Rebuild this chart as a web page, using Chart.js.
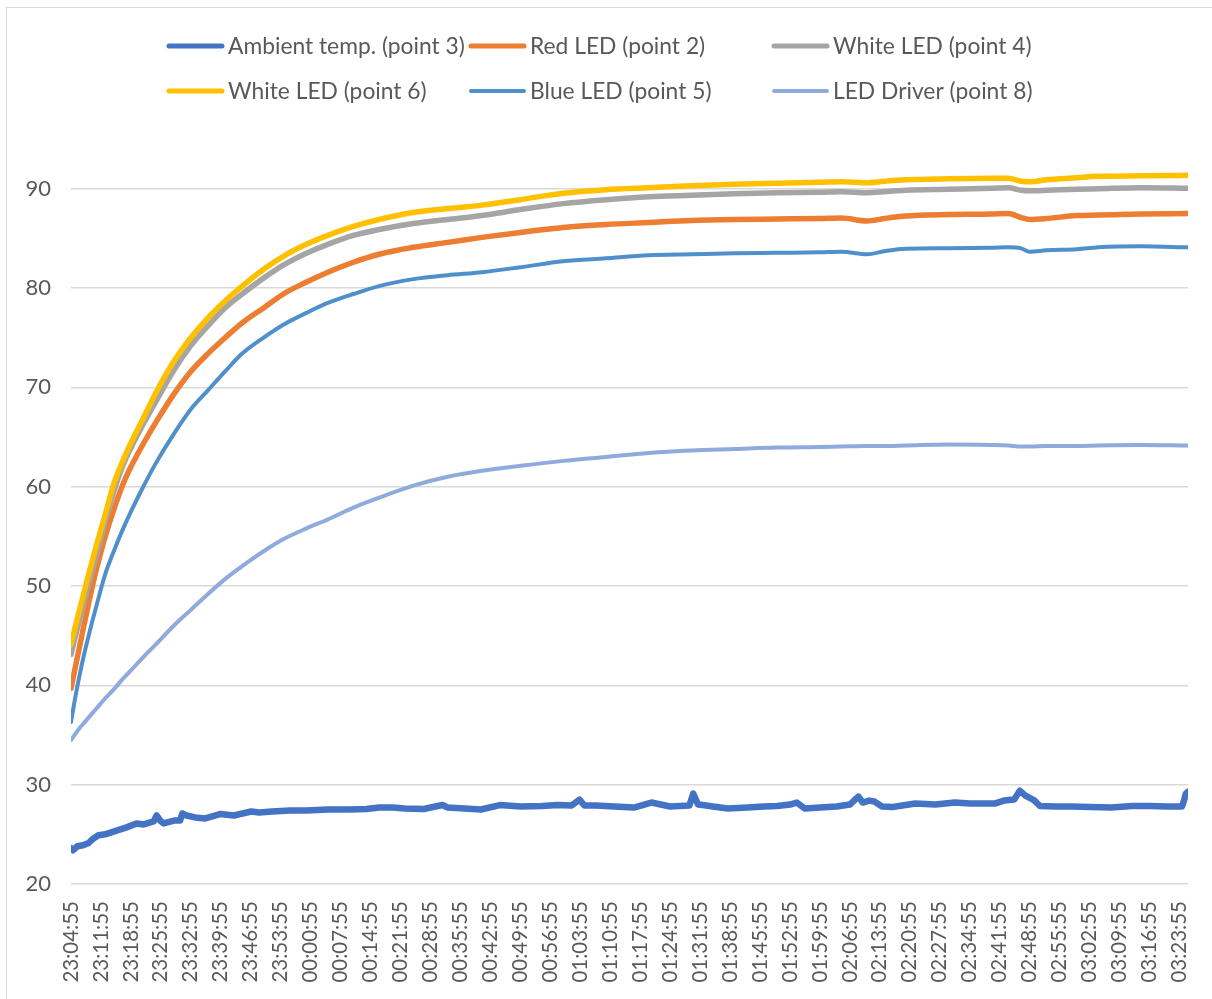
<!DOCTYPE html>
<html>
<head>
<meta charset="utf-8">
<title>LED temperatures</title>
<script src="https://cdn.jsdelivr.net/npm/chart.js@4.4.1/dist/chart.umd.min.js"></script>
<style>
  html, body { margin: 0; padding: 0; background: #fff; }
  #wrap { position: relative; width: 1212px; height: 999px; overflow: hidden; }
  #frame { position: absolute; left: 6px; top: 7px; width: 1300px; height: 1100px;
           border: 1.5px solid #d9d9d9; box-sizing: border-box; }
  #chart { position: absolute; left: 0; top: 0; }
</style>
</head>
<body>
<div id="wrap">
  <div id="frame"></div>
  <canvas id="chart" width="1212" height="999"></canvas>
</div>
<script>
'use strict';

// minutes after 23:04:55
var minutes = [0, 1, 2, 3, 4, 5, 6, 8, 10, 12, 14, 17, 20, 24, 28, 32, 36, 40, 45, 50,
    55, 60, 66, 72, 80, 88, 96, 105, 115, 125, 135, 145, 155, 165, 175, 180, 186, 190, 195, 205,
    215, 219, 222, 224, 228, 235, 240, 250, 261];

var redLed = [39.7, 41.8, 43.9, 46.0, 48.0, 50.0, 51.8, 55.0, 57.7, 60.1, 62.0, 64.4, 66.6,
    69.3, 71.6, 73.4, 75.0, 76.5, 78.0, 79.5, 80.6, 81.6, 82.6, 83.4, 84.1, 84.6, 85.1,
    85.6, 86.1, 86.4, 86.6, 86.8, 86.9, 86.95, 87.0, 87.05, 86.75, 87.0, 87.25, 87.4, 87.45,
    87.5, 87.1, 86.9, 87.0, 87.3, 87.35, 87.45, 87.5];

var whiteLed4 = [43.1, 44.9, 46.6, 48.3, 50.0, 51.6, 53.2, 56.5, 59.5, 62.0, 63.9, 66.4, 68.7,
    71.7, 74.2, 76.2, 78.0, 79.4, 81.0, 82.4, 83.5, 84.4, 85.3, 85.9, 86.5, 86.9, 87.3,
    87.9, 88.5, 88.9, 89.2, 89.35, 89.5, 89.6, 89.65, 89.7, 89.6, 89.7, 89.85, 89.95, 90.05,
    90.1, 89.85, 89.8, 89.85, 89.95, 90.0, 90.1, 90.05];

var whiteLed6 = [44.1, 45.9, 47.6, 49.3, 51.0, 52.6, 54.2, 57.2, 60.3, 62.5, 64.4, 67.0, 69.6,
    72.6, 75.0, 77.0, 78.7, 80.2, 81.9, 83.3, 84.4, 85.3, 86.2, 86.9, 87.6, 88.0, 88.35,
    88.9, 89.55, 89.9, 90.1, 90.3, 90.45, 90.55, 90.65, 90.7, 90.6, 90.75, 90.9, 91.0, 91.05,
    91.05, 90.75, 90.7, 90.9, 91.1, 91.25, 91.3, 91.35];

var blueLed = [36.3, 38.8, 41.0, 43.0, 44.8, 46.5, 48.1, 51.2, 53.5, 55.6, 57.5, 60.1, 62.5,
    65.3, 67.8, 69.7, 71.6, 73.4, 75.0, 76.4, 77.5, 78.5, 79.4, 80.2, 80.9, 81.3, 81.6,
    82.1, 82.7, 83.0, 83.3, 83.4, 83.5, 83.55, 83.6, 83.65, 83.4, 83.7, 83.95, 84.0, 84.05,
    84.1, 84.0, 83.65, 83.8, 83.9, 84.1, 84.2, 84.1];

var ledDriver = [34.5, 35.1, 35.7, 36.2, 36.7, 37.2, 37.7, 38.7, 39.6, 40.6, 41.5, 42.9, 44.2,
    46.0, 47.6, 49.2, 50.7, 52.0, 53.5, 54.8, 55.8, 56.7, 57.9, 58.9, 60.1, 61.0, 61.6,
    62.1, 62.6, 63.0, 63.4, 63.65, 63.8, 63.95, 64.0, 64.05, 64.1, 64.1, 64.15, 64.25, 64.2,
    64.15, 64.05, 64.05, 64.1, 64.1, 64.15, 64.2, 64.15];

// ambient is noisier, so it has its own sample times
var ambientMinutes = [0, 0.5, 1.5, 2.8, 4, 5, 6.4, 8, 10.8, 13, 15.3, 17, 19.3, 20, 20.8, 21.6,
    24.3, 25.5, 26, 27, 29, 31.4, 33, 35, 38, 42.1, 44, 47, 51.1, 55, 60, 65, 69, 72, 75.2, 78,
    82.4, 86.8, 88, 92, 95.8, 100.2, 105, 110, 113.7, 117, 118.8, 120, 122.6, 127, 131.5, 135.6,
    140, 144.5, 145.4, 146.5, 147.6, 150, 153.5, 158, 162, 165, 168, 169.6, 171.5, 175, 178.9,
    182, 183.2, 184, 185, 186.5, 187.7, 189.5, 192, 197.3, 202, 206.5, 210, 215.8, 218, 220.4,
    221.7, 223, 225, 226.4, 230, 233.8, 238, 243, 248, 252.1, 256, 259.6, 260, 260.5, 261];

var ambientTemp = [23.6, 23.4, 23.8, 23.9, 24.1, 24.5, 24.9, 25.0, 25.4, 25.7, 26.1, 26.0, 26.3,
    26.9, 26.4, 26.1, 26.4, 26.4, 27.1, 26.9, 26.7, 26.6, 26.8, 27.05, 26.9, 27.3, 27.2, 27.3,
    27.4, 27.4, 27.5, 27.5, 27.55, 27.7, 27.7, 27.6, 27.55, 27.95, 27.7, 27.6, 27.5, 27.95,
    27.8, 27.85, 27.95, 27.9, 28.5, 27.9, 27.9, 27.8, 27.7, 28.2, 27.8, 27.9, 29.1, 28.0,
    27.95, 27.8, 27.6, 27.7, 27.8, 27.85, 28.0, 28.2, 27.6, 27.7, 27.8, 28.0, 28.5, 28.8,
    28.2, 28.4, 28.3, 27.8, 27.75, 28.1, 28.0, 28.2, 28.1, 28.1, 28.4, 28.5, 29.4, 28.9,
    28.45, 27.85, 27.8, 27.8, 27.75, 27.7, 27.85, 27.85, 27.8, 27.8, 28.3, 29.1, 29.3];

// one label every 7 minutes
var tickLabels = ['23:04:55', '23:11:55', '23:18:55', '23:25:55', '23:32:55', '23:39:55',
    '23:46:55', '23:53:55', '00:00:55', '00:07:55', '00:14:55', '00:21:55', '00:28:55',
    '00:35:55', '00:42:55', '00:49:55', '00:56:55', '01:03:55', '01:10:55', '01:17:55',
    '01:24:55', '01:31:55', '01:38:55', '01:45:55', '01:52:55', '01:59:55', '02:06:55',
    '02:13:55', '02:20:55', '02:27:55', '02:34:55', '02:41:55', '02:48:55', '02:55:55',
    '03:02:55', '03:09:55', '03:16:55', '03:23:55'];

var yTicks = [20, 30, 40, 50, 60, 70, 80, 90];

var seriesNames = ['Ambient temp. (point 3)', 'Red LED (point 2)', 'White LED (point 4)',
    'White LED (point 6)', 'Blue LED (point 5)', 'LED Driver (point 8)'];


function pairs(xs, ys) {
    return xs.map(function(x, i) { return { x: x, y: ys[i] }; });
}

var FONT = 'Lato, "Liberation Sans", sans-serif';
var TEXT = '#595959';

function line(i, xs, ys, color, width, smooth) {
    return {
        label: seriesNames[i],
        data: pairs(xs, ys),
        borderColor: color,
        backgroundColor: color,
        borderWidth: width,
        legendWidth: Math.min(width, 5),
        pointRadius: 0,
        fill: false,
        cubicInterpolationMode: smooth ? 'monotone' : 'default',
        tension: 0,
        borderCapStyle: 'round',
        borderJoinStyle: 'round',
        order: 6 - i
    };
}

// legend laid out in a fixed 3 x 2 grid like the original
var legendCols = [167, 469, 772];
var legendRows = [46, 91];

var gridLegend = {
    id: 'gridLegend',
    afterDraw: function(chart) {
        var ctx = chart.ctx;
        ctx.save();
        ctx.font = '22.8px ' + FONT;
        ctx.textBaseline = 'middle';
        ctx.fillStyle = TEXT;
        chart.data.datasets.forEach(function(ds, i) {
            var x = legendCols[i % 3];
            var y = legendRows[Math.floor(i / 3)];
            ctx.strokeStyle = ds.borderColor;
            ctx.lineWidth = ds.legendWidth;
            ctx.lineCap = 'round';
            ctx.beginPath();
            ctx.moveTo(x + 2, y);
            ctx.lineTo(x + 55, y);
            ctx.stroke();
            ctx.fillText(ds.label, x + 61, y + 1);
        });
        ctx.restore();
    }
};

var ctx = document.getElementById('chart').getContext('2d');
var chart = new Chart(ctx, {
    type: 'line',
    data: {
        datasets: [
            line(0, ambientMinutes, ambientTemp, '#4472c4', 6.5, false),
            line(1, minutes, redLed, '#ed7d31', 5.5, true),
            line(2, minutes, whiteLed4, '#a5a5a5', 5.5, true),
            line(3, minutes, whiteLed6, '#ffc000', 5.5, true),
            line(4, minutes, blueLed, '#4f8fcb', 4, true),
            line(5, minutes, ledDriver, '#8faadc', 4, true)
        ]
    },
    options: {
        responsive: false,
        animation: false,
        devicePixelRatio: 1,
        layout: { padding: { top: 149, left: 0, right: 24, bottom: 16 } },
        plugins: {
            legend: { display: false },
            tooltip: { enabled: false }
        },
        scales: {
            x: {
                type: 'linear',
                min: 0,
                max: 261,
                grid: { display: false, drawTicks: false },
                border: { display: false },
                afterBuildTicks: function(axis) {
                    axis.ticks = tickLabels.map(function(t, i) { return { value: i * 7 }; });
                },
                afterFit: function(axis) {
                    axis.height = 99;
                    axis.paddingLeft = 0;
                    axis.paddingRight = 0;
                },
                ticks: {
                    autoSkip: false,
                    minRotation: 90,
                    maxRotation: 90,
                    padding: 17,
                    color: TEXT,
                    font: { family: FONT, size: 20.5 },
                    callback: function(v) { return tickLabels[Math.round(v / 7)]; }
                }
            },
            y: {
                min: 20,
                max: 94,
                grid: { color: '#d9d9d9', lineWidth: 1.5, drawTicks: false },
                border: { display: false },
                afterBuildTicks: function(axis) {
                    axis.ticks = yTicks.map(function(v) { return { value: v }; });
                },
                afterFit: function(axis) { axis.width = 71; },
                ticks: {
                    padding: 20,
                    color: TEXT,
                    font: { family: FONT, size: 22 }
                }
            }
        }
    },
    plugins: [gridLegend]
});
</script>
</body>
</html>
